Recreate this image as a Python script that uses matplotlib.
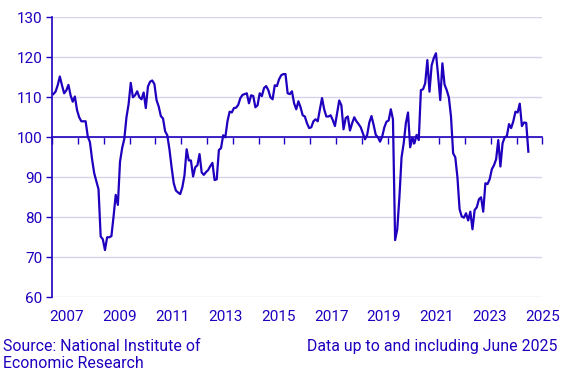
#Economic tendency indicator, monthly, 2007 - June 2025
import matplotlib
matplotlib.use('Agg')
import matplotlib.pyplot as plt
import numpy as np

plt.rcParams['font.family'] = ['Roboto', 'DejaVu Sans']

blue = '#1e00be'
grid_color = '#d4d4ec'

first_year = 2007
last_year = 2025
label_years = [2007, 2009, 2011, 2013, 2015, 2017, 2019, 2021, 2023, 2025]
y_ticks = [60, 70, 80, 90, 100, 110, 120, 130]

#one value per month, Jan 2007 ... Jun 2025
v2007 = [110.8, 111.4, 113.0, 115.2, 113.0, 111.0, 111.7, 113.1, 110.5, 108.9, 110.2, 106.8]
v2008 = [105.0, 104.0, 104.0, 104.0, 100.2, 98.8, 94.5, 91.0, 89.0, 87.0, 75.2, 74.5]
v2009 = [71.8, 75.0, 75.0, 75.3, 80.2, 85.6, 83.1, 93.9, 97.3, 99.6, 105.0, 108.3]
v2010 = [113.6, 110.0, 110.5, 111.5, 110.0, 109.5, 111.2, 107.3, 112.7, 113.9, 114.2, 113.3]
v2011 = [109.3, 107.7, 105.3, 104.7, 101.5, 100.5, 97.0, 92.5, 88.5, 86.7, 86.2, 85.8]
v2012 = [87.5, 90.5, 97.0, 94.2, 94.2, 90.2, 92.5, 93.0, 95.8, 91.2, 90.6, 91.3]
v2013 = [91.8, 92.8, 93.6, 89.3, 89.5, 96.8, 97.3, 100.5, 100.0, 104.0, 106.4, 106.2]
v2014 = [107.3, 107.4, 108.1, 109.8, 110.6, 110.8, 111.0, 108.5, 110.5, 110.3, 107.5, 108.0]
v2015 = [111.0, 110.3, 112.3, 112.8, 111.8, 110.0, 109.5, 113.0, 112.8, 114.5, 115.5, 115.8]
v2016 = [115.8, 111.0, 110.8, 111.5, 108.5, 107.0, 109.0, 107.5, 105.5, 105.2, 103.5, 102.3]
v2017 = [102.5, 104.0, 104.5, 104.0, 107.0, 109.8, 107.0, 105.2, 105.2, 105.5, 104.3, 102.8]
v2018 = [106.0, 109.2, 108.0, 102.0, 104.8, 105.2, 101.7, 103.5, 105.0, 104.0, 103.3, 102.5]
v2019 = [101.0, 99.5, 100.6, 103.7, 105.3, 103.1, 100.6, 100.0, 98.9, 100.2, 102.5, 103.9]
v2020 = [104.2, 107.0, 104.5, 74.3, 77.0, 85.0, 95.0, 98.5, 103.5, 106.2, 97.5, 99.8]
v2021 = [98.5, 100.6, 99.3, 111.8, 112.0, 113.5, 119.3, 111.4, 118.0, 119.8, 121.0, 115.5]
v2022 = [109.3, 118.5, 113.2, 111.8, 110.0, 105.2, 96.0, 95.0, 90.0, 82.0, 80.2, 79.9]
v2023 = [81.0, 79.2, 81.4, 77.0, 81.8, 82.5, 84.5, 85.0, 81.4, 88.5, 88.3, 89.5]
v2024 = [92.0, 93.0, 94.5, 99.3, 92.7, 98.5, 100.0, 100.3, 103.3, 102.3, 104.0, 106.4]
v2025 = [106.2, 108.4, 102.8, 103.7, 103.6, 96.4]

values = (v2007 + v2008 + v2009 + v2010 + v2011 + v2012 + v2013 + v2014 + v2015
          + v2016 + v2017 + v2018 + v2019 + v2020 + v2021 + v2022 + v2023 + v2024 + v2025)

n_years = last_year - first_year + 1
months = np.arange(len(values)) + 0.5   #each month sits in the middle of its slot

fig = plt.figure(figsize=(5.68, 3.79), dpi=100)
ax = fig.add_axes([0.0921, 0.2156, 0.8627, 0.7388])

ax.plot(months, values, color=blue, linewidth=1.6, solid_joinstyle='round', zorder=3)

ax.set_xlim(0, n_years * 12)
ax.set_ylim(60, 130)

#gridlines
ax.set_yticks(y_ticks)
ax.grid(axis='y', color=grid_color, linewidth=1)
ax.set_axisbelow(True)

#y axis
ax.tick_params(axis='y', colors=blue, labelcolor=blue, labelsize=11, length=4, width=1, direction='out', pad=3)
ax.spines['left'].set_color(blue)
ax.spines['left'].set_linewidth(1.2)
ax.spines['top'].set_visible(False)
ax.spines['right'].set_visible(False)

#x axis runs through 100, ticks at year boundaries
ax.spines['bottom'].set_position(('data', 100))
ax.spines['bottom'].set_color(blue)
ax.spines['bottom'].set_linewidth(1.2)
ax.set_xticks([12 * i for i in range(n_years + 1)])
ax.tick_params(axis='x', colors=blue, length=5, width=1, direction='out', labelbottom=False)

#year labels below the plot, spread evenly from the first year to the right edge
label_pos = np.linspace(6.8, n_years * 12, len(label_years))
sec = ax.secondary_xaxis('bottom')
sec.set_xticks(label_pos, labels=[str(y) for y in label_years])
sec.tick_params(axis='x', length=0, labelcolor=blue, labelsize=11, pad=9)
sec.spines['bottom'].set_visible(False)

fig.text(0.005, 0.106, "Source: National Institute of\nEconomic Research", color=blue,
         fontsize=11.4, ha='left', va='top', linespacing=1.15)
fig.text(0.981, 0.106, "Data up to and including June 2025", color=blue,
         fontsize=11.4, ha='right', va='top')

fig.savefig('out.png', dpi=100)
